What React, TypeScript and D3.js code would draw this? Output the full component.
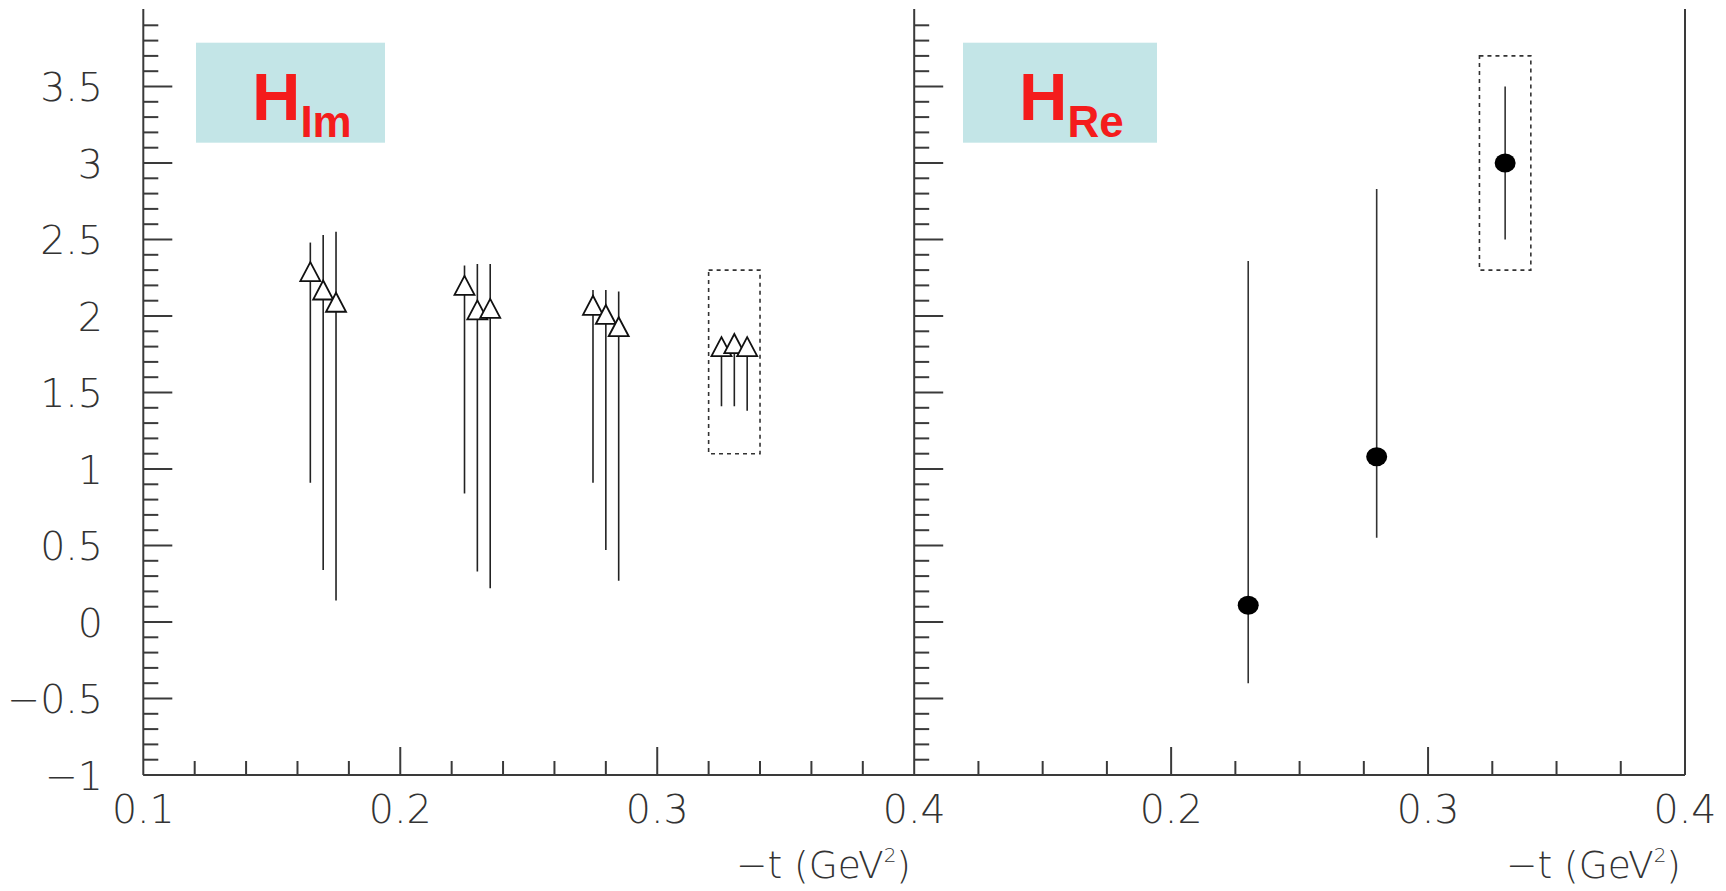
import React from "react";
import * as d3 from "d3";

// ---- data ----
const imT = [0.165, 0.17, 0.175, 0.225, 0.23, 0.235, 0.275, 0.28, 0.285, 0.325, 0.33, 0.335];
const imVal = [2.29, 2.17, 2.09, 2.2, 2.04, 2.05, 2.07, 2.01, 1.93, 1.8, 1.82, 1.8];
const imHi = [2.48, 2.53, 2.55, 2.33, 2.34, 2.34, 2.17, 2.17, 2.16, 1.83, 1.85, 1.83];
const imLo = [0.91, 0.34, 0.14, 0.84, 0.33, 0.22, 0.91, 0.47, 0.27, 1.41, 1.41, 1.38];

const reT = [0.23, 0.28, 0.33];
const reVal = [0.11, 1.08, 3.0];
const reHi = [2.36, 2.83, 3.5];
const reLo = [-0.4, 0.55, 2.5];

const imBoxT = [0.32, 0.34];
const imBoxV = [1.1, 2.3];
const reBoxT = [0.32, 0.34];
const reBoxV = [2.3, 3.7];

const yTickLabels = ["−1", "−0.5", "0", "0.5", "1", "1.5", "2", "2.5", "3", "3.5"];
const yTickValues = [-1, -0.5, 0, 0.5, 1, 1.5, 2, 2.5, 3, 3.5];
const xTickLeftValues = [0.1, 0.2, 0.3, 0.4];
const xTickLeftLabels = ["0.1", "0.2", "0.3", "0.4"];
const xTickRightValues = [0.2, 0.3, 0.4];
const xTickRightLabels = ["0.2", "0.3", "0.4"];

// ---- layout ----
const W = 1726;
const H = 891;
const yBottom = 775;
const yTop = 10;
const leftX0 = 143.3;
const midX = 914.2;
const rightX1 = 1685;
const AX = "#3a3a3a";
const FONT = "'DejaVu Sans', sans-serif";
const FW = 200;

const y = d3.scaleLinear().domain([-1, 4]).range([yBottom, yTop]);
const xL = d3.scaleLinear().domain([0.1, 0.4]).range([leftX0, midX]);
const xR = d3.scaleLinear().domain([0.1, 0.4]).range([midX, rightX1]);

function YTicks({ x0 }: { x0: number }) {
  const ticks = d3.range(0, 50).map((i) => -1 + i * 0.1);
  return (
    <g>
      {ticks.map((v, i) => {
        const major = i % 5 === 0;
        return (
          <line key={i} x1={x0} x2={x0 + (major ? 29 : 15)} y1={y(v)} y2={y(v)} stroke={AX} strokeWidth={2} />
        );
      })}
    </g>
  );
}

function XTicks({ sc, step, perMajor }: { sc: any; step: number; perMajor: number }) {
  const n = Math.round(0.3 / step);
  const ticks = d3.range(1, n).map((i) => ({ v: 0.1 + i * step, major: i % perMajor === 0 }));
  return (
    <g>
      {ticks.map((t, i) => (
        <line key={i} x1={sc(t.v)} x2={sc(t.v)} y1={yBottom} y2={yBottom - (t.major ? 28 : 14)} stroke={AX} strokeWidth={2} />
      ))}
    </g>
  );
}

function Triangle({ cx, cy }: { cx: number; cy: number }) {
  const w = 20;
  const h = 19;
  const p = d3.path();
  p.moveTo(cx, cy - h / 2);
  p.lineTo(cx + w / 2, cy + h / 2);
  p.lineTo(cx - w / 2, cy + h / 2);
  p.closePath();
  return <path d={p.toString()} fill="#fff" stroke="#111" strokeWidth={1.8} strokeLinejoin="miter" />;
}

function Label({ x0, w, main, sub }: { x0: number; w: number; main: string; sub: string }) {
  return (
    <g>
      <rect x={x0} y={42.7} width={w} height={100} fill="#c3e5e7" />
      <text x={x0 + 56} y={120} fill="#f41c1c" fontFamily="'Liberation Sans', Arial, sans-serif" fontWeight="bold" fontSize={67}>
        {main}
        <tspan fontSize={44} dy={16.7}>{sub}</tspan>
      </text>
    </g>
  );
}

function XTitle({ xEnd }: { xEnd: number }) {
  return (
    <text x={xEnd} y={878} textAnchor="end" fontFamily={FONT} fontWeight={FW} fontSize={37.5} fill="#333">
      −t (GeV<tspan fontSize={20} dy={-16}>2</tspan>
      <tspan dy={16}>)</tspan>
    </text>
  );
}

export default function App() {
  return (
    <svg width={W} height={H} style={{ position: "fixed", left: 0, top: 0, background: "#fff" }}>
      <rect x={0} y={0} width={W} height={H} fill="#fff" />
      {/* frame */}
      <line x1={leftX0} x2={leftX0} y1={9} y2={yBottom} stroke={AX} strokeWidth={2} />
      <line x1={midX} x2={midX} y1={9} y2={yBottom} stroke={AX} strokeWidth={2} />
      <line x1={rightX1} x2={rightX1} y1={9} y2={yBottom} stroke={AX} strokeWidth={2} />
      <line x1={leftX0} x2={rightX1} y1={yBottom} y2={yBottom} stroke={AX} strokeWidth={2} />
      <YTicks x0={leftX0} />
      <YTicks x0={midX} />
      <XTicks sc={xL} step={0.02} perMajor={5} />
      <XTicks sc={xR} step={0.025} perMajor={4} />

      {/* y labels */}
      {yTickValues.map((v, i) => (
        <text key={i} x={103} y={y(v)} dy="0.37em" textAnchor="end" fontFamily={FONT} fontWeight={FW} fontSize={39.5} fill="#333">
          {yTickLabels[i]}
        </text>
      ))}
      {/* x labels */}
      {xTickLeftValues.map((v, i) => (
        <text key={"l" + i} x={xL(v)} y={823} textAnchor="middle" fontFamily={FONT} fontWeight={FW} fontSize={39.5} fill="#333">
          {xTickLeftLabels[i]}
        </text>
      ))}
      {xTickRightValues.map((v, i) => (
        <text key={"r" + i} x={xR(v)} y={823} textAnchor="middle" fontFamily={FONT} fontWeight={FW} fontSize={39.5} fill="#333">
          {xTickRightLabels[i]}
        </text>
      ))}
      <XTitle xEnd={911} />
      <XTitle xEnd={1681} />

      {/* label boxes */}
      <Label x0={196} w={189} main="H" sub="Im" />
      <Label x0={963} w={194} main="H" sub="Re" />

      {/* dashed boxes */}
      <rect x={xL(imBoxT[0])} y={y(imBoxV[1])} width={xL(imBoxT[1]) - xL(imBoxT[0])} height={y(imBoxV[0]) - y(imBoxV[1])}
        fill="none" stroke="#333" strokeWidth={1.6} strokeDasharray="4 4" />
      <rect x={xR(reBoxT[0])} y={y(reBoxV[1])} width={xR(reBoxT[1]) - xR(reBoxT[0])} height={y(reBoxV[0]) - y(reBoxV[1])}
        fill="none" stroke="#333" strokeWidth={1.6} strokeDasharray="4 4" />

      {/* H_Im error bars + triangles */}
      {imT.map((t, i) => (
        <line key={"e" + i} x1={xL(t)} x2={xL(t)} y1={y(imHi[i])} y2={y(imLo[i])} stroke="#222" strokeWidth={1.6} />
      ))}
      {imT.map((t, i) => (
        <Triangle key={"t" + i} cx={xL(t)} cy={y(imVal[i])} />
      ))}

      {/* H_Re */}
      {reT.map((t, i) => (
        <line key={"re" + i} x1={xR(t)} x2={xR(t)} y1={y(reHi[i])} y2={y(reLo[i])} stroke="#333" strokeWidth={1.6} />
      ))}
      {reT.map((t, i) => (
        <ellipse key={"rc" + i} cx={xR(t)} cy={y(reVal[i])} rx={10.5} ry={9.5} fill="#000" />
      ))}
    </svg>
  );
}
